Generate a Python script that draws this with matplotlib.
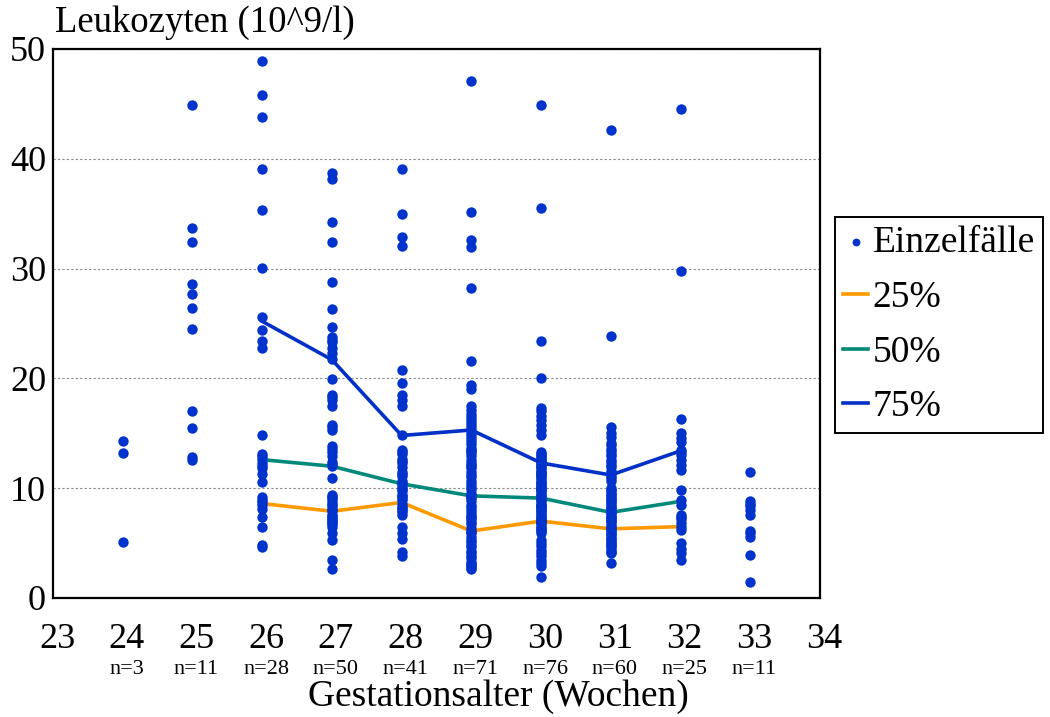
import matplotlib.pyplot as plt
from matplotlib.transforms import ScaledTranslation

plt.rcParams['font.family'] = ['Liberation Serif', 'DejaVu Serif']

# Gestational week and number of cases per week
weeks = [24, 25, 26, 27, 28, 29, 30, 31, 32, 33]
n_cases = [3, 11, 28, 50, 41, 71, 76, 60, 25, 11]

# Single leukocyte counts (10^9/l) per gestational week
wk24 = [14.3, 13.2, 5.1]
wk25 = [44.9, 33.7, 32.4, 28.6, 27.7, 26.4, 24.5, 17.0, 15.5, 12.8, 12.6]
wk26 = [48.9, 45.8, 43.8, 39.1, 35.3, 30.1, 25.6, 24.4, 23.4, 22.8,
        14.8, 13.1, 12.9, 12.7, 12.3, 12.0, 11.8, 11.3, 10.6, 9.2,
        8.9, 8.7, 8.5, 8.1, 7.4, 6.5, 4.8, 4.6]
wk27 = [38.7, 38.2, 34.2, 32.4, 28.8, 26.3, 24.7, 23.8, 23.5, 23.3,
        22.8, 22.3, 21.8, 19.9, 18.5, 18.3, 18.0, 17.5, 15.8, 15.6,
        15.3, 13.8, 13.6, 13.3, 12.9, 12.4, 12.2, 12.0, 10.9, 9.4,
        9.2, 9.1, 8.8, 8.6, 8.5, 8.2, 8.0, 7.9, 7.6, 7.5,
        7.3, 7.1, 7.0, 6.8, 6.7, 6.5, 5.9, 5.3, 3.5, 2.6]
wk28 = [39.1, 35.0, 32.9, 32.1, 20.8, 19.6, 18.5, 18.0, 17.5, 14.8,
        13.5, 13.3, 13.1, 12.7, 12.5, 12.3, 11.9, 11.5, 11.3, 11.1,
        10.7, 10.5, 10.3, 10.0, 9.9, 9.7, 9.4, 9.3, 9.1, 8.9,
        8.6, 8.3, 8.2, 8.0, 7.8, 7.6, 6.5, 5.9, 5.4, 4.2, 3.8]
wk29 = [47.1, 35.2, 32.6, 32.0, 28.2, 21.6, 19.4, 19.0,
        17.5, 17.1, 16.8, 16.5, 16.2, 15.9, 15.7, 15.4, 15.1, 14.8,
        14.6, 14.3, 14.0, 13.7, 13.5, 13.4, 13.2, 12.9, 12.6, 12.3,
        12.1, 12.0, 11.8, 11.5, 11.2, 11.0, 10.7, 10.4, 10.1, 9.9,
        9.6, 9.3, 9.2, 9.1, 8.8, 8.5, 8.3, 8.0, 7.7, 7.5,
        7.4, 7.2, 6.9, 6.7, 6.4, 6.1, 6.0, 5.9, 5.6, 5.3,
        5.1, 4.8, 4.6, 4.3, 4.1, 3.8, 3.6, 3.3, 3.1, 3.0,
        2.9, 2.7, 2.6]
wk30 = [44.9, 35.5, 23.4, 20.0, 17.3, 17.0, 16.6, 16.2, 15.8, 15.3, 14.8,
        13.3, 13.1, 13.0, 12.8, 12.7, 12.6, 12.5, 12.4, 12.2, 12.1,
        11.9, 11.8, 11.6, 11.5, 11.4, 11.3, 11.2, 11.0, 10.9, 10.7,
        10.6, 10.4, 10.3, 10.1, 10.0, 9.9, 9.8, 9.7, 9.5, 9.4,
        9.2, 9.1, 8.9, 8.8, 8.6, 8.5, 8.4, 8.3, 8.2, 8.0,
        7.9, 7.7, 7.6, 7.4, 7.3, 7.1, 7.0, 6.9, 6.8, 6.7,
        6.5, 6.4, 6.2, 6.1, 5.9,
        5.3, 5.0, 4.7, 4.4, 4.1, 3.8, 3.5, 3.2, 2.9, 1.9]
wk31 = [42.6, 23.9, 15.6, 15.0, 14.7,
        14.1, 13.9, 13.6, 13.4, 13.1, 12.9, 12.6, 12.4, 12.1, 11.9,
        11.6, 11.4, 11.1, 10.9, 10.7,
        10.0, 9.8, 9.7, 9.5, 9.4, 9.2, 9.0, 8.9, 8.7, 8.6,
        8.4, 8.2, 8.1, 7.9, 7.8, 7.7, 7.6, 7.4, 7.3, 7.1,
        7.0, 6.8, 6.6, 6.5, 6.3, 6.2, 6.0, 5.8, 5.7, 5.5,
        5.4, 5.2, 5.0, 4.9, 4.7, 4.6, 4.4, 4.2, 4.1, 3.2]
wk32 = [44.5, 29.8, 16.3, 15.0, 14.6, 14.2, 13.5, 13.3, 13.0, 12.6,
        12.1, 11.7, 9.8, 8.9, 8.5, 7.6, 7.4, 7.2, 6.8, 6.5,
        6.2, 5.0, 4.5, 4.1, 3.5]
wk33 = [11.5, 8.8, 8.6, 8.4, 8.0, 7.6, 6.1, 5.9, 5.6, 3.9, 1.5]

# Percentile curves
pct_weeks = [26, 27, 28, 29, 30, 31, 32]
p25 = [8.6, 7.9, 8.7, 6.1, 7.0, 6.3, 6.5]
p50 = [12.6, 12.0, 10.4, 9.3, 9.1, 7.8, 8.8]
p75 = [25.2, 21.7, 14.8, 15.3, 12.3, 11.2, 13.4]

per_week = [wk24, wk25, wk26, wk27, wk28, wk29, wk30, wk31, wk32, wk33]
xs = []
ys = []
for wk, vals in zip(weeks, per_week):
    xs += [wk] * len(vals)
    ys += vals

blue = '#0033cc'
fig = plt.figure(figsize=(10.5, 7.17), dpi=100)
ax = fig.add_axes([53 / 1050, 1 - 598 / 717, (820 - 53) / 1050, (598 - 49) / 717])

dots = ax.scatter(xs, ys, s=56, color=blue, linewidths=0, zorder=4, label='Einzelfälle')
l25, = ax.plot(pct_weeks, p25, color='#ff9900', lw=2.6, zorder=3, label='25%')
l50, = ax.plot(pct_weeks, p50, color='#00897b', lw=2.6, zorder=3, label='50%')
l75, = ax.plot(pct_weeks, p75, color='#0030c8', lw=2.6, zorder=3, label='75%')

ax.set_xlim(23, 34)
ax.set_ylim(0, 50)
ax.set_xticks(range(23, 35))
ax.set_yticks(range(0, 51, 10))
ax.tick_params(axis='both', length=0, labelsize=26)
ax.tick_params(axis='x', pad=18)
ax.tick_params(axis='y', pad=5)
ax.yaxis.grid(True, linestyle=(0, (2, 2)), color='#888888', lw=0.8)
ax.set_axisbelow(True)
for sp in ax.spines.values():
    sp.set_linewidth(1.6)

# week numbers sit a little right of their positions
shift = ScaledTranslation(4 / 100, 0, fig.dpi_scale_trans)
for lbl in ax.get_xticklabels():
    lbl.set_transform(lbl.get_transform() + shift)

# Case counts under each week
for wk, n in zip(weeks, n_cases):
    ax.text(wk, -0.1310, f'n={n}', transform=ax.get_xaxis_transform() + shift,
            ha='center', va='center', fontsize=16)

fig.text(498 / 1050, 1 - 697 / 717, 'Gestationsalter (Wochen)',
         ha='center', va='center', fontsize=27)
fig.text(55 / 1050, 1 - 23 / 717, 'Leukozyten (10^9/l)',
         ha='left', va='center', fontsize=26.5)

leg = fig.legend(handles=[dots, l25, l50, l75], loc='center left',
                 bbox_to_anchor=(835 / 1050, 1 - 325 / 717), fontsize=27,
                 handlelength=0.67, handletextpad=0.12, labelspacing=0.54,
                 borderpad=0.22, borderaxespad=0, fancybox=False,
                 edgecolor='black', framealpha=1, markerscale=0.75)
leg.get_frame().set_linewidth(1.4)

fig.savefig('out.png', dpi=100)
